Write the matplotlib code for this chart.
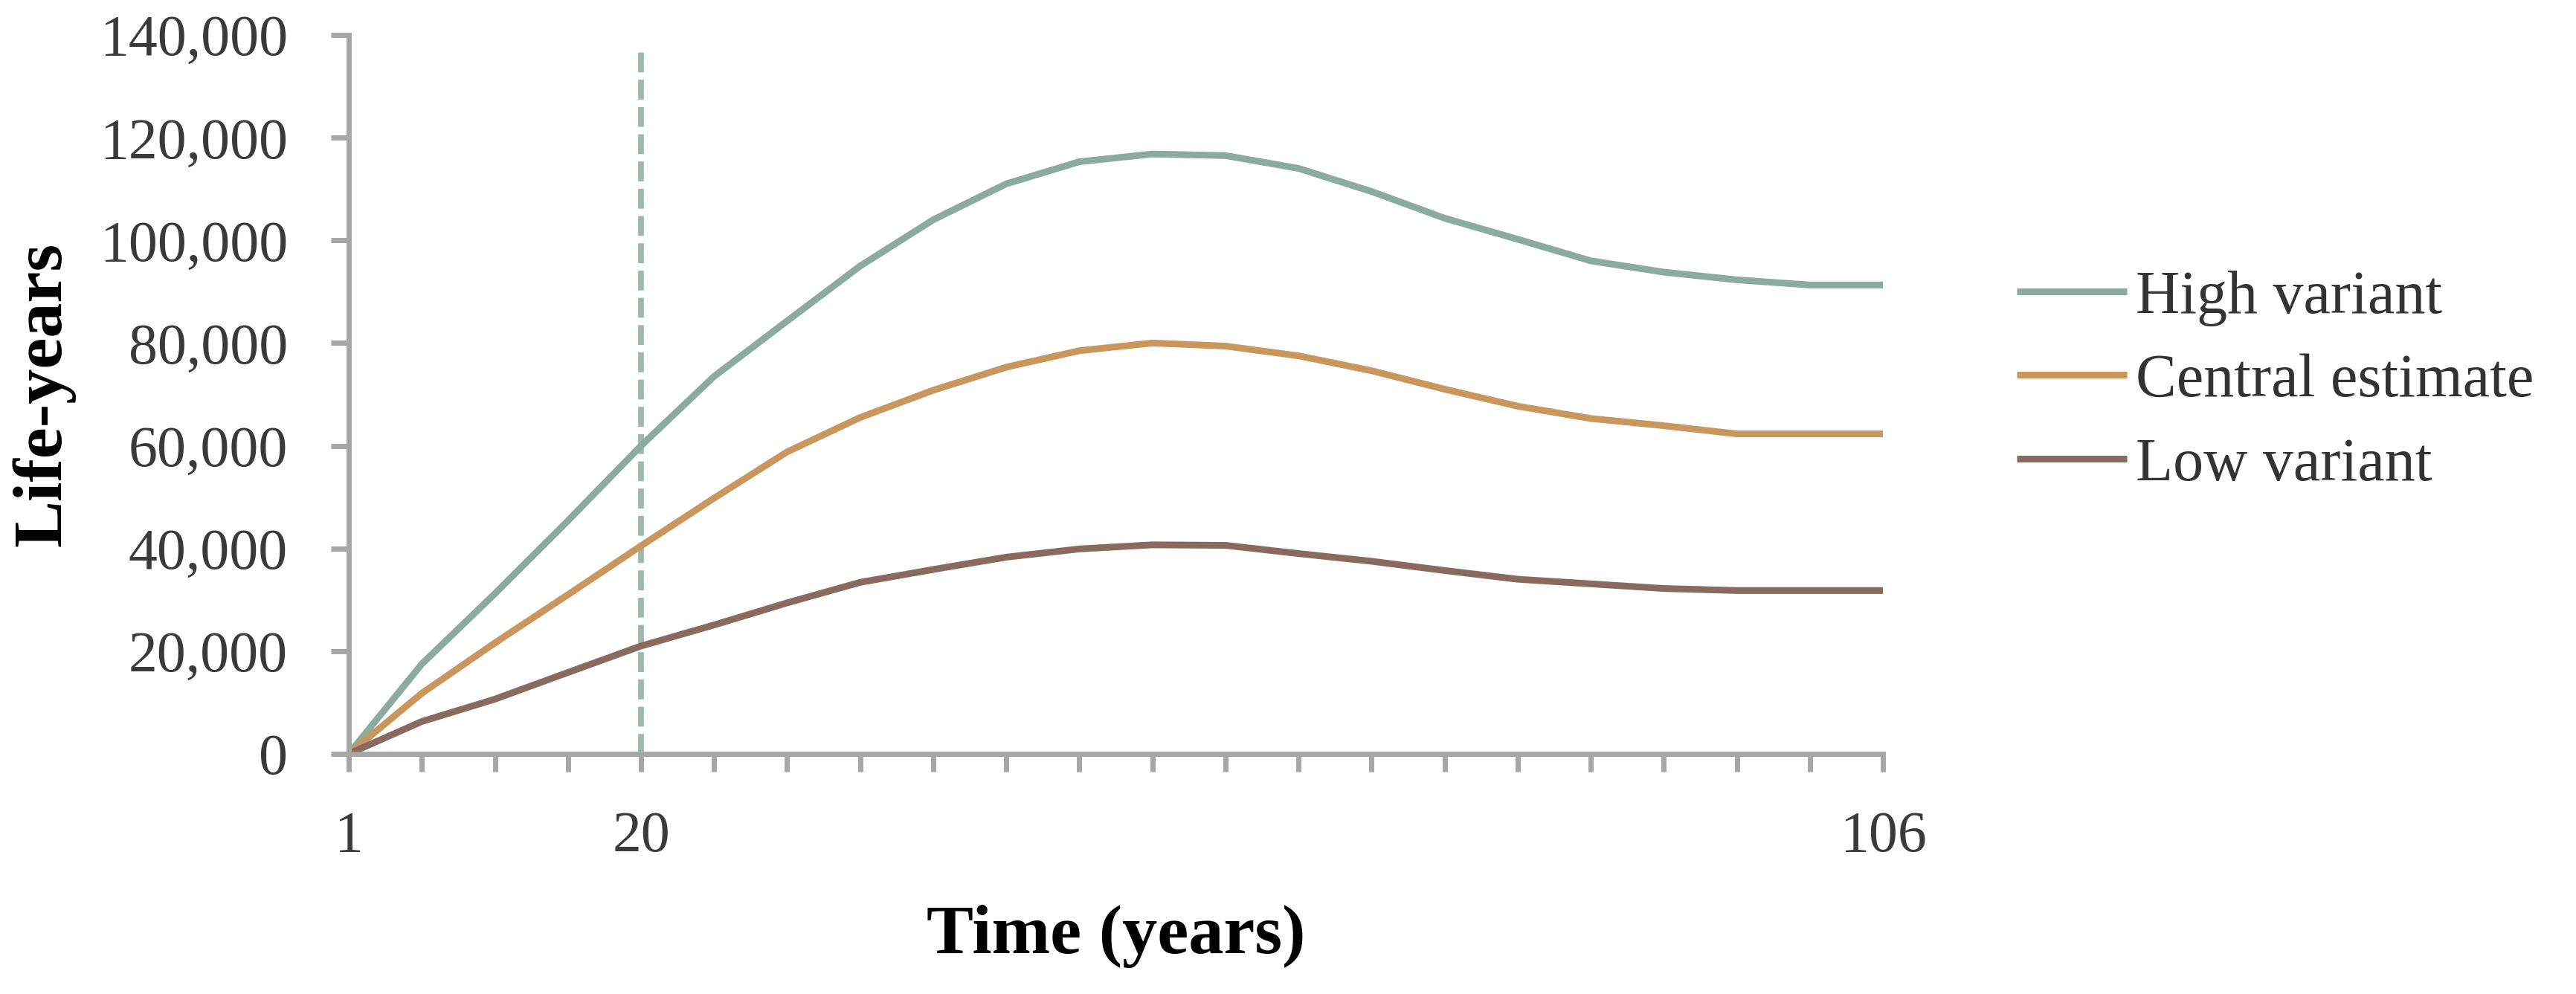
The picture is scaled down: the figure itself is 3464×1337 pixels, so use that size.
import numpy as np
import matplotlib
matplotlib.use("Agg")
from matplotlib import pyplot as plt

plt.rcParams["font.family"] = ["Liberation Serif", "DejaVu Serif"]

# values read at every 5th year step (index 0 = year 1, index 105 = year 106)
t = np.arange(0, 106, 5)
high = [0, 17500, 31200, 45400, 60000, 73500, 84300, 95000, 104000, 111000, 115300,
        116800, 116500, 114000, 109500, 104300, 100200, 96000, 93800, 92300, 91300, 91300]
central = [0, 11800, 21600, 31000, 40500, 49800, 58800, 65500, 70800, 75300, 78500,
           80000, 79400, 77500, 74600, 71000, 67700, 65300, 63900, 62300, 62300, 62300]
low = [0, 6300, 10650, 15850, 21000, 25100, 29400, 33400, 35900, 38300, 39900,
       40700, 40600, 39000, 37500, 35700, 34000, 33100, 32200, 31800, 31800, 31800]

series_names = ["High variant", "Central estimate", "Low variant"]
colors = ["#8aab9d", "#c9975e", "#8a6a5f"]
xtick_text = {0: "1", 20: "20", 105: "106"}
marker_year = 20

fig = plt.figure(figsize=(34.64, 13.37), dpi=100)
ax = fig.add_axes([0.1354, 0.2416, 0.5956, 0.7233])

for vals, name, c in zip([high, central, low], series_names, colors):
    ax.plot(t, vals, color=c, lw=6.5, label=name, solid_capstyle="butt")

# dashed marker line
ax.plot([marker_year, marker_year], [0, 137000], color="#9db8ab", lw=5.5,
        linestyle=(0, (3.5, 1.3)), zorder=1)

ax.set_xlim(0, 105)
ax.set_ylim(0, 140000)
ax.set_yticks(np.arange(0, 140001, 20000))
ax.set_yticklabels([f"{v:,}" for v in range(0, 140001, 20000)])
ax.set_xticks(t)
ax.set_xticklabels([xtick_text.get(v, "") for v in t])

for s in ["top", "right"]:
    ax.spines[s].set_visible(False)
for s in ["left", "bottom"]:
    ax.spines[s].set_color("#a6a6a6")
    ax.spines[s].set_linewidth(5)

ax.tick_params(axis="both", direction="out", length=17, width=5, color="#a6a6a6",
               labelsize=56, labelcolor="#3a3a3a")
ax.tick_params(axis="y", pad=42)
ax.tick_params(axis="x", pad=38)

ax.set_ylabel("Life-years", fontsize=68, fontweight="bold")
ax.yaxis.set_label_coords(-0.178, 0.5)
ax.set_xlabel("Time (years)", fontsize=68, fontweight="bold", labelpad=40)

fig.legend(loc="center left", bbox_to_anchor=(0.783, 0.616), frameon=False,
           fontsize=59, handlelength=1.8, handletextpad=0.15, labelspacing=0.45,
           borderpad=0, borderaxespad=0, labelcolor="#333333")

fig.savefig("out.png", dpi=100)
